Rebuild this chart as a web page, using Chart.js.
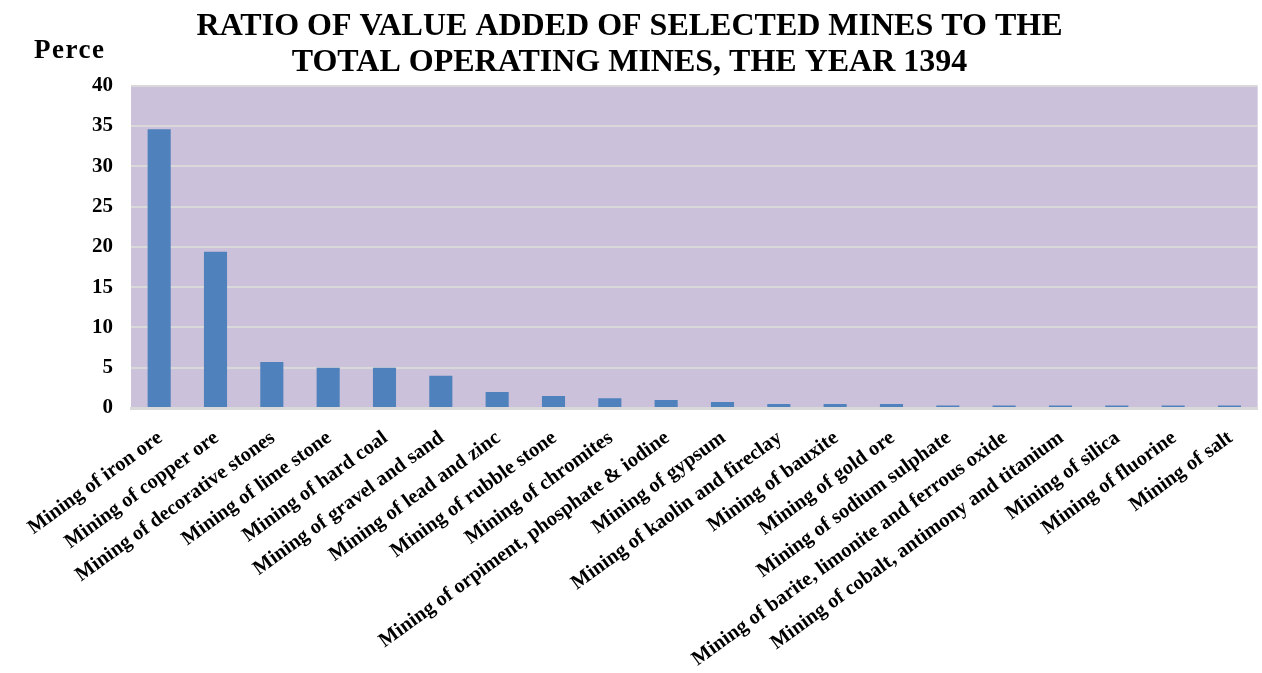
<!DOCTYPE html>
<html>
<head>
<meta charset="utf-8">
<script src="https://cdn.jsdelivr.net/npm/chart.js@4/dist/chart.umd.min.js"></script>
<style>
html,body{margin:0;padding:0;background:#fff;}
#wrap{width:1262px;height:673px;position:relative;}
</style>
</head>
<body>
<div id="wrap"><canvas id="c" width="1262" height="673"></canvas></div>
<script>
const categories = [
  "Mining of iron ore",
  "Mining of copper ore",
  "Mining of decorative stones",
  "Mining of lime stone",
  "Mining of hard coal",
  "Mining of gravel and sand",
  "Mining of lead and zinc",
  "Mining of rubble stone",
  "Mining of chromites",
  "Mining of orpiment, phosphate & iodine",
  "Mining of gypsum",
  "Mining of kaolin and fireclay",
  "Mining of bauxite",
  "Mining of gold ore",
  "Mining of sodium sulphate",
  "Mining of barite, limonite and ferrous oxide",
  "Mining of cobalt, antimony and titanium",
  "Mining of silica",
  "Mining of fluorine",
  "Mining of salt"
];
const values = [34.6, 19.4, 5.7, 5.0, 5.0, 4.0, 2.0, 1.5, 1.2, 1.0, 0.75, 0.5, 0.5, 0.5, 0.3, 0.3, 0.3, 0.3, 0.3, 0.3];
const titleLines = ["RATIO OF VALUE ADDED OF SELECTED MINES TO THE", "TOTAL OPERATING MINES, THE YEAR 1394"];
const yAxisLabel = "Perce";
const yMin = 0, yMax = 40, yStep = 5;

const FONT = "'Liberation Serif', 'Times New Roman', serif";

const bgPlugin = {
  id: 'plotBg',
  beforeDraw(chart) {
    const {ctx, chartArea: a} = chart;
    ctx.save();
    ctx.fillStyle = '#ccc1da';
    ctx.fillRect(a.left, a.top, a.right - a.left, a.bottom - a.top);
    ctx.restore();
  },
  afterDraw(chart) {
    const {ctx} = chart;
    ctx.save();
    ctx.font = "bold 27px " + FONT;
    if ('letterSpacing' in ctx) ctx.letterSpacing = '1.5px';
    ctx.fillStyle = '#000';
    ctx.textBaseline = 'alphabetic';
    ctx.textAlign = 'left';
    ctx.fillText(yAxisLabel, 34, 58);
    ctx.restore();
  }
};

new Chart(document.getElementById('c'), {
  type: 'bar',
  data: {
    labels: categories,
    datasets: [{
      data: values,
      backgroundColor: '#4f81bd',
      borderWidth: 0,
      barPercentage: 0.41,
      categoryPercentage: 1.0
    }]
  },
  options: {
    responsive: false,
    animation: false,
    devicePixelRatio: 1,
    layout: { padding: { left: 0, right: 3, top: 0, bottom: 0 } },
    plugins: {
      legend: { display: false },
      tooltip: { enabled: false },
      title: {
        display: true,
        text: titleLines,
        color: '#000',
        font: { family: FONT, size: 32, weight: 'bold', lineHeight: 1.12 },
        padding: { top: 9, bottom: 5 }
      }
    },
    scales: {
      x: {
        grid: { display: false, drawTicks: false },
        border: { display: true, color: '#d9d9d9', width: 3 },
        ticks: {
          color: '#000',
          font: { family: FONT, size: 20.5, weight: 'bold' },
          maxRotation: 36,
          minRotation: 36,
          autoSkip: false,
          padding: 18,
          labelOffset: 1
        },
        afterFit(scale) { scale.height = 265; }
      },
      y: {
        min: yMin,
        max: yMax,
        grid: { color: '#d9d9d9', lineWidth: 2, drawTicks: false },
        border: { display: false },
        ticks: {
          stepSize: yStep,
          color: '#000',
          font: { family: FONT, size: 21, weight: 'bold' },
          padding: 18
        },
        afterFit(scale) { scale.width = 131; }
      }
    }
  },
  plugins: [bgPlugin]
});
</script>
</body>
</html>
